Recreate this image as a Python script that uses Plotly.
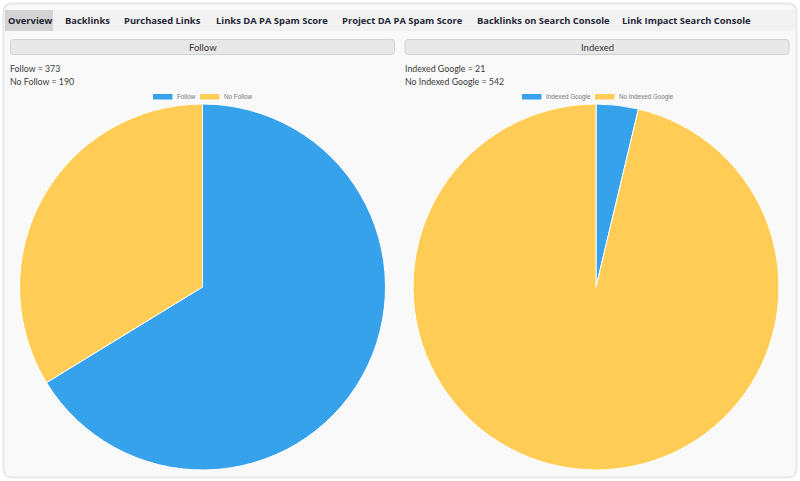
import plotly.graph_objects as go

# chart data
tabs = [
    "Overview",
    "Backlinks",
    "Purchased Links",
    "Links DA PA Spam Score",
    "Project DA PA Spam Score",
    "Backlinks on Search Console",
    "Link Impact Search Console",
]
follow_labels = ["Follow", "No Follow"]
follow_values = [373, 190]
indexed_labels = ["Indexed Google", "No Indexed Google"]
indexed_values = [21, 542]
slice_colors = ["#36A2EB", "#FFCD56"]

W, H = 800, 481

# layout positions (pixels)
tab_centers = [29.5, 87.7, 162, 271.5, 402.5, 543, 686.5]
panels = [
    dict(title="Follow", labels=follow_labels, values=follow_values,
         bar=(10.5, 394.5), pie=(19.5, 385.5), legend_x=[153, 200]),
    dict(title="Indexed", labels=indexed_labels, values=indexed_values,
         bar=(405, 789), pie=(413, 779), legend_x=[522, 595]),
]


def rrect(x0, y0, x1, y1, r):
    return (f"M {x0+r},{y0} L {x1-r},{y0} Q {x1},{y0} {x1},{y0+r} "
            f"L {x1},{y1-r} Q {x1},{y1} {x1-r},{y1} L {x0+r},{y1} "
            f"Q {x0},{y1} {x0},{y1-r} L {x0},{y0+r} Q {x0},{y0} {x0+r},{y0} Z")


fig = go.Figure()
shapes = []
annotations = []

# outer frame + tab bar
shapes.append(dict(type="path", path=rrect(3.5, 3.5, 796.5, 477.5, 9),
                   fillcolor="#f9f9f9", line=dict(color="#e6e8ec", width=2),
                   xref="x", yref="y", layer="below"))
shapes.append(dict(type="rect", x0=5, x1=795, y0=10, y1=31,
                   fillcolor="#f2f2f2", line=dict(width=0),
                   xref="x", yref="y", layer="below"))
shapes.append(dict(type="rect", x0=5, x1=53, y0=10, y1=31,
                   fillcolor="#d3d3d3", line=dict(width=0),
                   xref="x", yref="y", layer="below"))

for name, cx in zip(tabs, tab_centers):
    annotations.append(dict(x=cx, y=20.5, text=f"<b>{name}</b>", showarrow=False,
                            xanchor="center", yanchor="middle",
                            font=dict(family="Open Sans", size=9.4, color="#1f2636")))

for p in panels:
    bx0, bx1 = p["bar"]
    shapes.append(dict(type="path", path=rrect(bx0, 39.5, bx1, 54.5, 3),
                       fillcolor="#e8e8e8", line=dict(color="#d2d2d2", width=1),
                       xref="x", yref="y", layer="below"))
    annotations.append(dict(x=(bx0 + bx1) / 2, y=47, text=p["title"], showarrow=False,
                            xanchor="center", yanchor="middle",
                            font=dict(family="Lato", size=9.5, color="#333333")))
    for i, (lab, val) in enumerate(zip(p["labels"], p["values"])):
        annotations.append(dict(x=bx0 - 2.5, y=68.5 + i * 13, text=f"{lab} = {val}",
                                showarrow=False, xanchor="left", yanchor="middle",
                                font=dict(family="Lato", size=8.8, color="#3a3a3a")))
        # legend box + text
        lx = p["legend_x"][i]
        shapes.append(dict(type="rect", x0=lx, x1=lx + 19.5, y0=94, y1=99.5,
                           fillcolor=slice_colors[i], line=dict(width=0),
                           xref="x", yref="y"))
        annotations.append(dict(x=lx + 22, y=96.8, text=lab, showarrow=False,
                                xanchor="left", yanchor="middle",
                                font=dict(family="Liberation Sans", size=6.3, color="#777777")))

    px0, px1 = p["pie"]
    fig.add_trace(go.Pie(
        labels=p["labels"], values=p["values"],
        marker=dict(colors=slice_colors, line=dict(color="white", width=1)),
        sort=False, direction="clockwise", rotation=0,
        textinfo="none", showlegend=False,
        domain=dict(x=[px0 / W, px1 / W], y=[1 - 470 / H, 1 - 104 / H]),
    ))

fig.update_layout(
    width=W, height=H, autosize=False,
    margin=dict(l=0, r=0, t=0, b=0),
    paper_bgcolor="white", plot_bgcolor="rgba(0,0,0,0)",
    xaxis=dict(range=[0, W], visible=False, fixedrange=True),
    yaxis=dict(range=[H, 0], visible=False, fixedrange=True),
    shapes=shapes, annotations=annotations,
)

# drop the page's default body margin so the figure sits at 0,0
fig.write_html("out.html", config={"displayModeBar": False},
               post_script="document.body.style.margin='0';")
